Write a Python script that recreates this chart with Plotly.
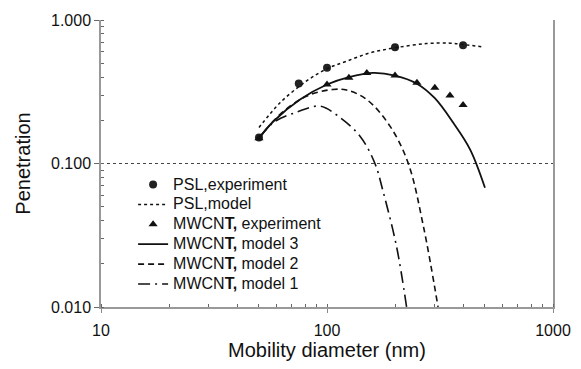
import plotly.graph_objects as go

# PSL experiment
psl_exp_d = [50, 75, 100, 200, 400]
psl_exp_p = [0.152, 0.361, 0.464, 0.646, 0.667]

# PSL model
psl_mod_d = [50, 62, 81, 100, 122, 155, 200, 275, 350, 400, 490]
psl_mod_p = [0.178, 0.265, 0.375, 0.458, 0.516, 0.59, 0.64, 0.685, 0.69, 0.675, 0.65]

# MWCNT experiment
cnt_exp_d = [50, 100, 125, 150, 200, 250, 300, 350, 400]
cnt_exp_p = [0.15, 0.355, 0.396, 0.428, 0.41, 0.365, 0.337, 0.298, 0.256]

# MWCNT model 3
m3_d = [50, 58, 76, 100, 125, 160, 200, 250, 300, 362, 430, 500]
m3_p = [0.15, 0.197, 0.279, 0.355, 0.40, 0.428, 0.41, 0.36, 0.285, 0.192, 0.125, 0.0677]

# MWCNT model 2
m2_d = [50, 62, 81, 106, 122, 150, 190, 229, 267, 310]
m2_p = [0.15, 0.22, 0.294, 0.328, 0.325, 0.279, 0.182, 0.10, 0.0366, 0.0100]

# MWCNT model 1
m1_d = [50, 58, 74, 93, 112, 140, 163, 177, 203, 225]
m1_p = [0.15, 0.193, 0.229, 0.251, 0.214, 0.155, 0.10, 0.064, 0.0265, 0.0100]

FONT = "Liberation Sans, Arial, sans-serif"


def lab(t):
    return '<span style="font-size:16px">' + t + '</span>'


fig = go.Figure()
fig.add_trace(go.Scatter(x=psl_exp_d, y=psl_exp_p, mode="markers", name=lab("PSL,experiment"),
                         marker=dict(symbol="circle", size=8, color="#222")))
fig.add_trace(go.Scatter(x=psl_mod_d, y=psl_mod_p, mode="lines", name=lab("PSL,model"), line_shape="spline",
                         line=dict(color="#111", width=1.5, dash="dot")))
fig.add_trace(go.Scatter(x=cnt_exp_d, y=cnt_exp_p, mode="markers", name=lab("MWCN<b>T,</b> experiment"),
                         marker=dict(symbol="triangle-up", size=8, color="#111")))
fig.add_trace(go.Scatter(x=m3_d, y=m3_p, mode="lines", name=lab("MWCN<b>T,</b> model 3"), line_shape="spline",
                         line=dict(color="#111", width=1.8)))
fig.add_trace(go.Scatter(x=m2_d, y=m2_p, mode="lines", name=lab("MWCN<b>T,</b> model 2"), line_shape="spline",
                         line=dict(color="#111", width=1.6, dash="6px,4px")))
fig.add_trace(go.Scatter(x=m1_d, y=m1_p, mode="lines", name=lab("MWCN<b>T,</b> model 1"), line_shape="spline",
                         line=dict(color="#111", width=1.6, dash="12px,5px,2px,5px")))

fig.update_layout(
    width=581, height=369,
    margin=dict(l=101, r=28, t=20, b=62),
    paper_bgcolor="white", plot_bgcolor="white",
    font=dict(family=FONT, size=16, color="#111"),
    showlegend=True,
    legend=dict(x=0.071, y=0.479, xanchor="left", yanchor="top", bgcolor="rgba(0,0,0,0)",
                font=dict(size=13), tracegroupgap=0, itemwidth=30),
)
fig.update_xaxes(
    type="log", range=[1, 3], automargin=False,
    tickvals=[10, 100, 1000], ticktext=["10", "100", "1000"],
    ticks="outside", ticklen=4, tickcolor="#888",
    minor=dict(ticks="inside", ticklen=3, tickcolor="#666", dtick="D1", showgrid=False),
    showline=True, linecolor="#999", linewidth=1.5,
    showgrid=False, zeroline=False,
    tickfont=dict(size=16), ticklabelstandoff=4,
    title=dict(text="Mobility diameter (nm)", font=dict(size=20), standoff=3),
)
fig.update_yaxes(
    type="log", range=[-2, 0], automargin=False,
    tickvals=[0.01, 0.1, 1], ticktext=["0.010", "0.100", "1.000"],
    ticks="outside", ticklen=5, tickcolor="#666",
    minor=dict(ticks="inside", ticklen=3, tickcolor="#666", dtick="D1", showgrid=False),
    showline=True, linecolor="#999", linewidth=1.5, mirror=True,
    showgrid=True, gridcolor="#444", gridwidth=0.8, griddash="dot",
    zeroline=False,
    tickfont=dict(size=16),
    title=dict(text="Penetration", font=dict(size=20), standoff=15),
)
fig.write_html("out.html")
